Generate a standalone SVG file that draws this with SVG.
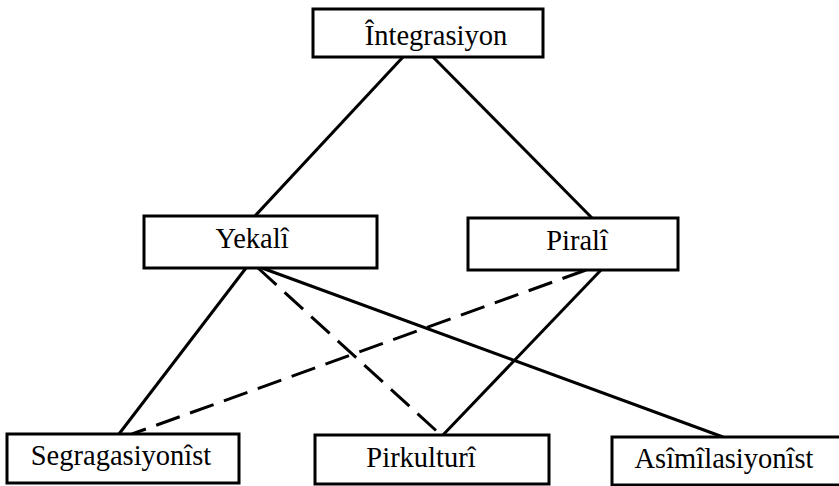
<svg xmlns="http://www.w3.org/2000/svg" width="839" height="486" viewBox="0 0 839 486">
<style>
.box{fill:#fff;stroke:#000;stroke-width:3}
.lbl{font-family:"Liberation Serif","Times New Roman",serif;font-size:28.5px;fill:#000;text-anchor:middle}
.ln{stroke:#000;stroke-width:3;fill:none;stroke-linecap:butt}
.dash{stroke-dasharray:25 11}
</style>
<rect width="839" height="486" fill="#fff"/>
<g id="connectors">
<line class="ln" x1="403" y1="57" x2="255" y2="216"/>
<line class="ln" x1="433" y1="57" x2="592" y2="218"/>
<line class="ln" x1="246" y1="268" x2="119" y2="434"/>
<line class="ln dash" x1="258" y1="268" x2="442" y2="436"/>
<line class="ln" x1="262" y1="268" x2="723" y2="437"/>
<line class="ln dash" x1="586" y1="270" x2="132" y2="434"/>
<line class="ln" x1="601" y1="270" x2="442" y2="436"/>
</g>
<g id="integrasiyon">
<rect class="box" x="313" y="9" width="230" height="48"/>
<text class="lbl" x="436" y="45">Întegrasiyon</text>
</g>
<g id="yekali">
<rect class="box" x="144" y="216" width="233" height="52"/>
<text class="lbl" x="252" y="248">Yekalî</text>
</g>
<g id="pirali">
<rect class="box" x="468" y="218" width="210" height="52"/>
<text class="lbl" x="577" y="250">Piralî</text>
</g>
<g id="segragasiyonist">
<rect class="box" x="7" y="434" width="232" height="49"/>
<text class="lbl" x="121" y="465">Segragasiyonîst</text>
</g>
<g id="pirkulturi">
<rect class="box" x="315" y="435" width="234" height="49"/>
<text class="lbl" x="421" y="467">Pirkulturî</text>
</g>
<g id="asimilasiyonist">
<rect class="box" x="612" y="437" width="240" height="48"/>
<text class="lbl" x="724" y="468">Asîmîlasiyonîst</text>
</g>
</svg>
